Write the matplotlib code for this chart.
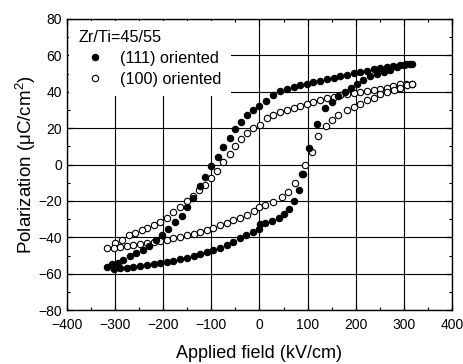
import numpy as np
import matplotlib
matplotlib.use("Agg")
import matplotlib.pyplot as plt
from matplotlib.ticker import MultipleLocator

plt.rcParams['font.family'] = ['Liberation Sans', 'DejaVu Sans']
plt.rcParams['mathtext.fontset'] = 'custom'
plt.rcParams['mathtext.rm'] = 'Liberation Sans'
plt.rcParams['mathtext.it'] = 'Liberation Sans'

# (111) oriented, descending branch (from +Emax to -Emax)
e111_down = [318, 305, 292, 278, 265, 251, 237, 223, 209, 196, 182, 168, 154, 140,
             126, 112, 98, 85, 71, 57, 43, 29, 14, 0, -14, -26, -38, -50, -62, -75,
             -87, -100, -113, -124, -138, -150, -162, -175, -191, -203, -216, -230,
             -243, -256, -270, -284, -295, -307, -317]
p111_down = [55.5, 55.2, 54.8, 54.2, 53.6, 53.0, 52.3, 51.6, 50.9, 50.1, 49.3, 48.5,
             47.7, 46.9, 46.1, 45.3, 44.5, 43.6, 42.6, 41.5, 40.2, 38.2, 35.0, 32.0,
             29.8, 27.0, 23.4, 19.6, 14.6, 9.7, 4.2, -0.8, -6.8, -11.9, -18.4, -23.6,
             -28.4, -31.5, -35.2, -38.5, -41.6, -45.0, -47.0, -48.6, -50.4, -52.6,
             -53.9, -54.8, -56.3]
# (111) oriented, ascending branch
e111_up = [-303, -290, -276, -262, -248, -234, -220, -206, -193, -179, -165, -151,
           -137, -123, -109, -96, -82, -68, -54, -41, -27, -14, 0, 1, 12, 26, 40, 52,
           62, 72, 82, 90, 103, 120, 136, 150, 163, 177, 190, 202, 216, 230, 244, 258,
           271, 285, 300, 313]
p111_up = [-57.3, -57.0, -56.6, -56.2, -55.8, -55.3, -54.8, -54.2, -53.6, -52.9, -52.1,
           -51.3, -50.4, -49.4, -48.3, -47.1, -45.6, -44.0, -42.3, -40.5, -38.7, -37.0,
           -35.2, -32.8, -32.4, -31.0, -29.3, -27.0, -24.2, -20.2, -14.1, -5.0, 9.1,
           22.5, 30.8, 34.4, 37.5, 40.0, 42.0, 44.0, 46.3, 48.5, 50.0, 51.0, 52.2, 53.7,
           54.6, 55.5]

# (100) oriented, descending branch
e100_down = [318, 305, 292, 278, 265, 251, 237, 223, 209, 196, 182, 168, 154, 140,
             126, 112, 98, 85, 71, 57, 43, 29, 15, 2, -14, -26, -38, -50, -62, -75,
             -88, -100, -114, -126, -138, -151, -165, -179, -193, -206, -220, -233,
             -244, -258, -272, -286, -300, -317]
p100_down = [44.5, 44.2, 44.0, 43.2, 42.3, 41.7, 41.2, 40.6, 40.0, 39.4, 38.7, 38.1,
             37.2, 36.3, 35.3, 34.4, 33.4, 32.3, 31.2, 29.9, 28.7, 27.3, 25.5, 21.6,
             19.8, 17.4, 14.3, 10.2, 6.0, 1.4, -3.5, -7.4, -11.0, -14.1, -17.4, -20.3,
             -23.1, -26.3, -29.4, -31.5, -33.0, -34.6, -36.1, -37.6, -38.9, -41.2,
             -43.1, -45.6]
# (100) oriented, ascending branch
e100_up = [-303, -290, -276, -262, -248, -234, -220, -206, -193, -179, -165, -151,
           -137, -123, -109, -96, -82, -68, -54, -40, -26, -12, 0, 12, 29, 46, 60, 74,
           88, 95, 109, 122, 139, 151, 164, 182, 196, 209, 223, 237, 251, 265, 279, 292,
           306, 318]
p100_up = [-45.6, -45.3, -44.9, -44.4, -43.8, -43.2, -42.5, -41.8, -41.2, -40.5, -39.8,
           -38.9, -37.9, -36.8, -35.7, -34.6, -33.2, -31.9, -30.6, -29.2, -27.7, -25.5,
           -23.3, -22.0, -20.5, -17.8, -15.0, -10.4, -5.3, -0.4, 6.9, 15.6, 21.0, 24.5,
           27.0, 29.8, 31.7, 33.5, 35.3, 36.8, 38.5, 39.9, 41.2, 42.3, 43.6, 44.5]

fig = plt.figure(figsize=(4.64, 3.64), dpi=100)
ax = fig.add_axes([0.1444, 0.148, 0.8296, 0.800])

ms = 4.6
ax.plot(e100_down + e100_up, p100_down + p100_up, 'o', ms=ms, mfc='white',
        mec='black', mew=0.8, ls='none', label='(100) oriented', zorder=3)
ax.plot(e111_down + e111_up, p111_down + p111_up, 'o', ms=ms, mfc='black',
        mec='black', mew=0.8, ls='none', label='(111) oriented', zorder=4)

ax.set_xlim(-400, 400)
ax.set_ylim(-80, 80)
ax.xaxis.set_major_locator(MultipleLocator(100))
ax.xaxis.set_minor_locator(MultipleLocator(50))
ax.yaxis.set_major_locator(MultipleLocator(20))
ax.yaxis.set_minor_locator(MultipleLocator(10))
ax.tick_params(which='both', direction='in', top=True, right=True, labelsize=10)
ax.tick_params(which='major', length=4, width=0.9)
ax.tick_params(which='minor', length=2.5, width=0.8)
ax.tick_params(axis='x', which='major', pad=6)
ax.grid(True, which='major', color='black', lw=0.8)
for s in ax.spines.values():
    s.set_linewidth(1.0)

ax.set_xlabel('Applied field (kV/cm)', fontsize=13, labelpad=9)
ax.set_ylabel('Polarization (μC/cm$^2$)', fontsize=13.5, labelpad=0)

h, l = ax.get_legend_handles_labels()
leg = ax.legend([h[1], h[0]], [l[1], l[0]], title='Zr/Ti=45/55', loc='upper left',
                fontsize=11.7, title_fontsize=11.7, frameon=True, framealpha=1,
                edgecolor='none', facecolor='white', borderaxespad=0.1,
                handletextpad=0.45, handlelength=2.1, labelspacing=0.35,
                borderpad=0.6)
leg._legend_box.align = 'left'
leg.set_zorder(5)

fig.savefig('out.png', dpi=100)
